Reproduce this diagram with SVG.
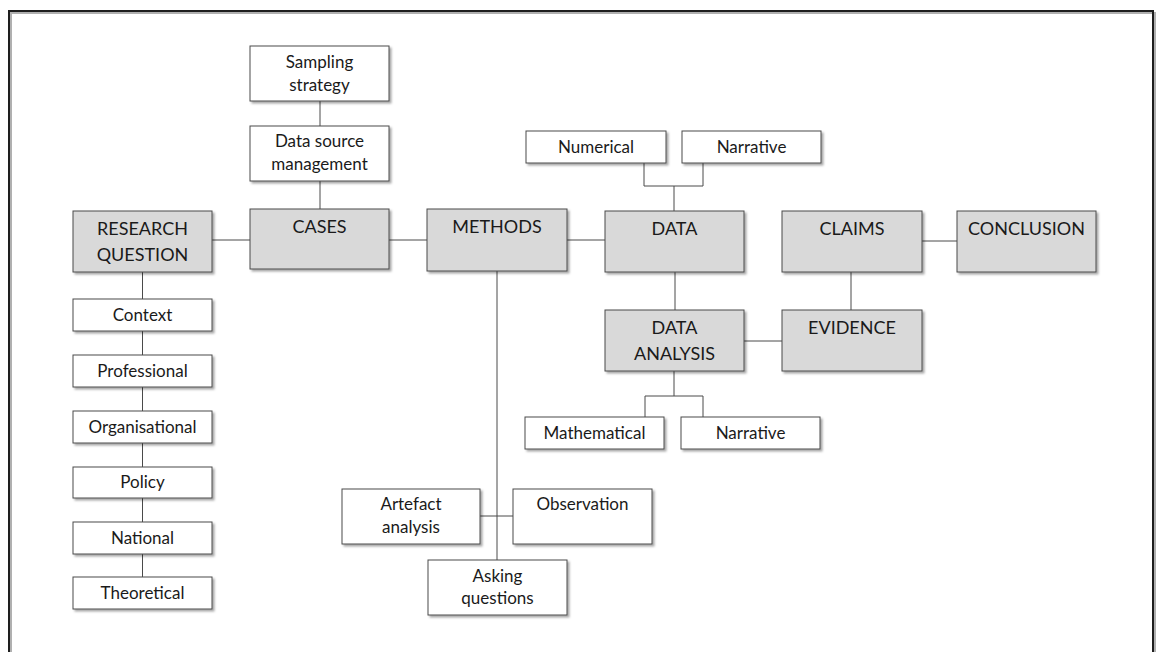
<svg xmlns="http://www.w3.org/2000/svg" width="1160" height="652" viewBox="0 0 1160 652">
  <defs>
    <filter id="shadow" x="-10%" y="-10%" width="130%" height="140%">
      <feDropShadow dx="2" dy="2" stdDeviation="1" flood-color="#000" flood-opacity="0.35"/>
    </filter>
    <style>
      .box { stroke: #4a4a4a; stroke-width: 1; filter: url(#shadow); }
      .main { fill: #d9d9d9; }
      .sub { fill: #ffffff; }
      .big { font-family: Lato, "Open Sans", "Liberation Sans", sans-serif; font-size: 18px; fill: #1a1a1a; text-anchor: middle; }
      .small { font-family: Lato, "Open Sans", "Liberation Sans", sans-serif; font-size: 17px; fill: #1a1a1a; text-anchor: middle; }
      .link { stroke: #4a4a4a; stroke-width: 1; fill: none; }
    </style>
  </defs>

  <rect width="1160" height="652" fill="#ffffff"/>

  <!-- outer frame (open at the bottom) -->
  <path d="M 11 660 V 13 H 1155 V 660" fill="none" stroke="#b0b0b0" stroke-width="2"/>
  <path d="M 9 660 V 11 H 1153 V 660" fill="none" stroke="#1e1e1e" stroke-width="2"/>

  <!-- connectors -->
  <g id="connectors">
    <line class="link" x1="320" y1="101" x2="320" y2="126"/>
    <line class="link" x1="320" y1="181" x2="320" y2="209"/>
    <line class="link" x1="212" y1="240" x2="250" y2="240"/>
    <line class="link" x1="389" y1="240" x2="427" y2="240"/>
    <line class="link" x1="567" y1="240" x2="605" y2="240"/>
    <path class="link" d="M 644 163 V 186 H 703 V 163 M 674 186 V 211"/>
    <line class="link" x1="675" y1="272" x2="675" y2="310"/>
    <line class="link" x1="744" y1="341" x2="782" y2="341"/>
    <line class="link" x1="851" y1="272" x2="851" y2="310"/>
    <line class="link" x1="922" y1="241" x2="957" y2="241"/>
    <path class="link" d="M 674 371 V 396 M 645 417 V 396 H 703 V 417"/>
    <path class="link" d="M 497 271 V 560 M 480 516 H 513"/>
    <path class="link" d="M 142.5 272 V 577"/>
  </g>

  <!-- core chain -->
  <g id="research-question">
    <rect class="box main" x="73" y="211" width="139" height="61"/>
    <text class="big" x="142.5" y="235">RESEARCH</text>
    <text class="big" x="142.5" y="261">QUESTION</text>
  </g>
  <g id="cases">
    <rect class="box main" x="250" y="209" width="139" height="60"/>
    <text class="big" x="319.5" y="233">CASES</text>
  </g>
  <g id="methods">
    <rect class="box main" x="427" y="209" width="140" height="62"/>
    <text class="big" x="497" y="233">METHODS</text>
  </g>
  <g id="data">
    <rect class="box main" x="605" y="211" width="139" height="61"/>
    <text class="big" x="674.5" y="235">DATA</text>
  </g>
  <g id="claims">
    <rect class="box main" x="782" y="211" width="140" height="61"/>
    <text class="big" x="852" y="235">CLAIMS</text>
  </g>
  <g id="conclusion">
    <rect class="box main" x="957" y="211" width="139" height="61"/>
    <text class="big" x="1026.5" y="235">CONCLUSION</text>
  </g>
  <g id="data-analysis">
    <rect class="box main" x="605" y="310" width="139" height="61"/>
    <text class="big" x="674.5" y="334">DATA</text>
    <text class="big" x="674.5" y="360">ANALYSIS</text>
  </g>
  <g id="evidence">
    <rect class="box main" x="782" y="310" width="140" height="61"/>
    <text class="big" x="852" y="334">EVIDENCE</text>
  </g>

  <!-- cases detail -->
  <g id="sampling-strategy">
    <rect class="box sub" x="250" y="46" width="139" height="55"/>
    <text class="small" x="319.5" y="68">Sampling</text>
    <text class="small" x="319.5" y="91">strategy</text>
  </g>
  <g id="data-source-management">
    <rect class="box sub" x="250" y="126" width="139" height="55"/>
    <text class="small" x="319.5" y="147">Data source</text>
    <text class="small" x="319.5" y="170">management</text>
  </g>

  <!-- data types -->
  <g id="numerical">
    <rect class="box sub" x="526" y="131" width="140" height="32"/>
    <text class="small" x="596" y="153">Numerical</text>
  </g>
  <g id="narrative-data">
    <rect class="box sub" x="682" y="131" width="139" height="32"/>
    <text class="small" x="751.5" y="153">Narrative</text>
  </g>

  <!-- analysis types -->
  <g id="mathematical">
    <rect class="box sub" x="525" y="417" width="139" height="32"/>
    <text class="small" x="594.5" y="439">Mathematical</text>
  </g>
  <g id="narrative-analysis">
    <rect class="box sub" x="681" y="417" width="139" height="32"/>
    <text class="small" x="750.5" y="439">Narrative</text>
  </g>

  <!-- methods -->
  <g id="artefact-analysis">
    <rect class="box sub" x="342" y="489" width="138" height="55"/>
    <text class="small" x="411" y="510">Artefact</text>
    <text class="small" x="411" y="533">analysis</text>
  </g>
  <g id="observation">
    <rect class="box sub" x="513" y="489" width="139" height="55"/>
    <text class="small" x="582.5" y="510">Observation</text>
  </g>
  <g id="asking-questions">
    <rect class="box sub" x="428" y="560" width="139" height="55"/>
    <text class="small" x="497.5" y="582">Asking</text>
    <text class="small" x="497.5" y="604">questions</text>
  </g>

  <!-- context column -->
  <g id="context">
    <rect class="box sub" x="73" y="299" width="139" height="32"/>
    <text class="small" x="142.5" y="321">Context</text>
  </g>
  <g id="professional">
    <rect class="box sub" x="73" y="355" width="139" height="32"/>
    <text class="small" x="142.5" y="377">Professional</text>
  </g>
  <g id="organisational">
    <rect class="box sub" x="73" y="411" width="139" height="32"/>
    <text class="small" x="142.5" y="433">Organisational</text>
  </g>
  <g id="policy">
    <rect class="box sub" x="73" y="467" width="139" height="31"/>
    <text class="small" x="142.5" y="488">Policy</text>
  </g>
  <g id="national">
    <rect class="box sub" x="73" y="522" width="139" height="32"/>
    <text class="small" x="142.5" y="544">National</text>
  </g>
  <g id="theoretical">
    <rect class="box sub" x="73" y="577" width="139" height="32"/>
    <text class="small" x="142.5" y="599">Theoretical</text>
  </g>
</svg>
